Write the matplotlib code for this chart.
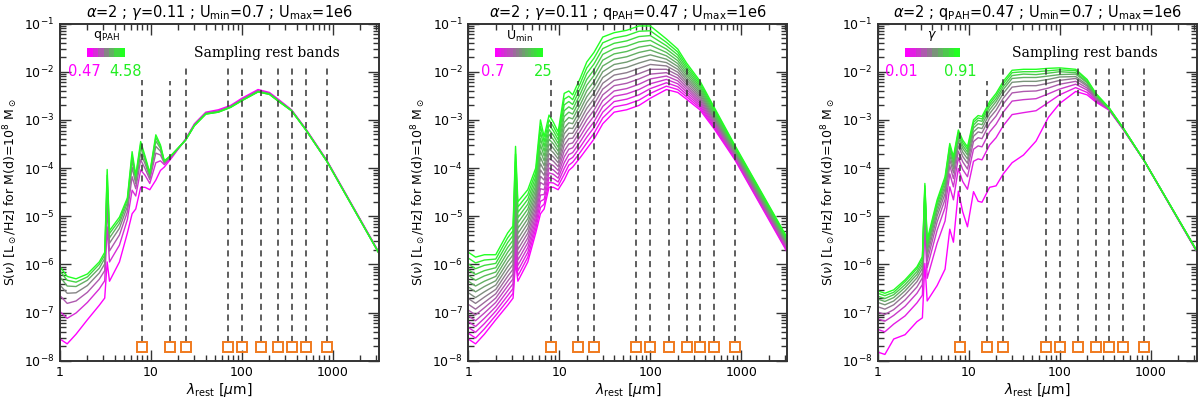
import numpy as np
import matplotlib.pyplot as plt
from matplotlib.colors import LinearSegmentedColormap
from matplotlib.patches import Rectangle
from matplotlib.ticker import LogLocator, NullFormatter, NullLocator

plt.rcParams['font.family'] = 'DejaVu Sans'
plt.rcParams['mathtext.fontset'] = 'dejavusans'

# wavelength grid (micron) shared by all curves
lam = [1.0, 1.2, 1.5, 2.0, 2.7, 3.1, 3.3, 3.5, 4.5, 5.5, 6.2, 6.8, 7.7, 8.6, 9.7, 11.3,
       12.7, 14, 17, 20, 24, 30, 40, 55, 75, 100, 150, 200, 250, 350, 500, 850, 3200]

# sampled rest bands (micron)
bands = [8, 16, 24, 70, 100, 160, 250, 350, 500, 850]

# panel 1: log10 S(nu) for qPAH = 0.47 ... 4.58
qpah_labels = ['0.47', '4.58']
sed_qpah = [
    [-7.55, -7.65, -7.45, -7.15, -6.85, -6.70, -5.95, -6.35, -5.95, -5.35, -4.95, -4.85, -4.40, -4.40, -4.45, -4.25, -4.05, -3.98, -3.78, -3.60, -3.40, -3.08, -2.84, -2.79, -2.70, -2.55, -2.37, -2.43, -2.57, -2.79, -3.18, -3.83, -5.75],
    [-6.98, -7.12, -7.01, -6.79, -6.51, -6.34, -5.22, -5.95, -5.60, -5.07, -4.46, -4.58, -4.04, -4.15, -4.32, -3.89, -3.85, -3.93, -3.76, -3.59, -3.41, -3.10, -2.86, -2.81, -2.72, -2.57, -2.39, -2.45, -2.59, -2.80, -3.19, -3.84, -5.76],
    [-6.65, -6.81, -6.76, -6.58, -6.31, -6.13, -4.80, -5.72, -5.39, -4.91, -4.18, -4.43, -3.83, -4.01, -4.24, -3.69, -3.73, -3.90, -3.74, -3.59, -3.41, -3.10, -2.86, -2.82, -2.72, -2.58, -2.40, -2.45, -2.59, -2.80, -3.19, -3.84, -5.76],
    [-6.43, -6.60, -6.59, -6.44, -6.18, -5.99, -4.51, -5.56, -5.25, -4.80, -3.98, -4.33, -3.69, -3.91, -4.19, -3.55, -3.65, -3.88, -3.74, -3.59, -3.42, -3.11, -2.87, -2.83, -2.73, -2.59, -2.41, -2.46, -2.60, -2.80, -3.20, -3.85, -5.77],
    [-6.26, -6.45, -6.46, -6.33, -6.08, -5.88, -4.30, -5.45, -5.15, -4.72, -3.84, -4.25, -3.58, -3.84, -4.15, -3.44, -3.59, -3.87, -3.73, -3.58, -3.42, -3.11, -2.87, -2.83, -2.73, -2.59, -2.41, -2.46, -2.60, -2.81, -3.20, -3.85, -5.77],
    [-6.14, -6.33, -6.37, -6.26, -6.00, -5.81, -4.15, -5.36, -5.08, -4.66, -3.74, -4.19, -3.51, -3.79, -4.12, -3.37, -3.55, -3.86, -3.72, -3.58, -3.42, -3.12, -2.88, -2.84, -2.74, -2.60, -2.42, -2.47, -2.61, -2.81, -3.20, -3.85, -5.77],
    [-6.05, -6.25, -6.30, -6.20, -5.95, -5.75, -4.03, -5.30, -5.02, -4.62, -3.66, -4.15, -3.45, -3.75, -4.10, -3.31, -3.52, -3.85, -3.72, -3.58, -3.42, -3.12, -2.88, -2.84, -2.74, -2.60, -2.42, -2.47, -2.61, -2.81, -3.20, -3.85, -5.77],
]

# panel 2: log10 S(nu) for Umin = 0.7 ... 25
umin_labels = ['0.7', '25']
sed_umin = [
    [-7.55, -7.65, -7.45, -7.15, -6.85, -6.70, -5.95, -6.35, -5.95, -5.35, -4.95, -4.85, -4.40, -4.40, -4.45, -4.25, -4.05, -3.98, -3.78, -3.60, -3.40, -3.08, -2.84, -2.79, -2.70, -2.55, -2.37, -2.43, -2.57, -2.79, -3.18, -3.83, -5.75],
    [-7.43, -7.53, -7.34, -7.06, -6.75, -6.60, -5.79, -6.24, -5.85, -5.26, -4.82, -4.75, -4.30, -4.31, -4.37, -4.13, -3.94, -3.88, -3.67, -3.48, -3.28, -2.96, -2.73, -2.68, -2.59, -2.45, -2.30, -2.37, -2.52, -2.75, -3.15, -3.81, -5.73],
    [-7.31, -7.41, -7.23, -6.97, -6.65, -6.50, -5.63, -6.13, -5.75, -5.17, -4.69, -4.65, -4.20, -4.22, -4.29, -4.01, -3.83, -3.78, -3.56, -3.36, -3.16, -2.84, -2.62, -2.57, -2.48, -2.35, -2.23, -2.31, -2.47, -2.71, -3.12, -3.79, -5.71],
    [-7.19, -7.29, -7.12, -6.88, -6.55, -6.40, -5.47, -6.02, -5.65, -5.08, -4.56, -4.55, -4.10, -4.13, -4.21, -3.89, -3.72, -3.68, -3.45, -3.24, -3.04, -2.72, -2.51, -2.46, -2.37, -2.25, -2.16, -2.25, -2.42, -2.67, -3.09, -3.77, -5.69],
    [-7.07, -7.17, -7.01, -6.79, -6.45, -6.30, -5.31, -5.91, -5.55, -4.99, -4.43, -4.45, -4.00, -4.04, -4.13, -3.77, -3.61, -3.58, -3.34, -3.12, -2.92, -2.60, -2.40, -2.35, -2.26, -2.15, -2.09, -2.19, -2.37, -2.63, -3.06, -3.75, -5.67],
    [-6.95, -7.05, -6.90, -6.70, -6.35, -6.20, -5.15, -5.80, -5.45, -4.90, -4.30, -4.35, -3.90, -3.95, -4.05, -3.65, -3.50, -3.48, -3.23, -3.00, -2.80, -2.48, -2.29, -2.24, -2.15, -2.05, -2.02, -2.13, -2.32, -2.59, -3.03, -3.73, -5.65],
    [-6.83, -6.93, -6.79, -6.61, -6.25, -6.10, -4.99, -5.69, -5.35, -4.81, -4.17, -4.25, -3.80, -3.86, -3.97, -3.53, -3.39, -3.38, -3.12, -2.88, -2.68, -2.36, -2.18, -2.13, -2.04, -1.95, -1.95, -2.07, -2.27, -2.55, -3.00, -3.71, -5.63],
    [-6.71, -6.81, -6.68, -6.52, -6.15, -6.00, -4.83, -5.58, -5.25, -4.72, -4.04, -4.15, -3.70, -3.77, -3.89, -3.41, -3.28, -3.28, -3.01, -2.76, -2.56, -2.24, -2.07, -2.02, -1.93, -1.85, -1.88, -2.01, -2.22, -2.51, -2.97, -3.69, -5.61],
    [-6.59, -6.69, -6.57, -6.43, -6.05, -5.90, -4.67, -5.47, -5.15, -4.63, -3.91, -4.05, -3.60, -3.68, -3.81, -3.29, -3.17, -3.18, -2.90, -2.64, -2.44, -2.12, -1.96, -1.91, -1.82, -1.75, -1.81, -1.95, -2.17, -2.47, -2.94, -3.67, -5.59],
    [-6.47, -6.57, -6.46, -6.34, -5.95, -5.80, -4.51, -5.36, -5.05, -4.54, -3.78, -3.95, -3.50, -3.59, -3.73, -3.17, -3.06, -3.08, -2.79, -2.52, -2.32, -2.00, -1.85, -1.80, -1.71, -1.65, -1.74, -1.89, -2.12, -2.43, -2.91, -3.65, -5.57],
    [-6.35, -6.45, -6.35, -6.25, -5.85, -5.70, -4.35, -5.25, -4.95, -4.45, -3.65, -3.85, -3.40, -3.50, -3.65, -3.05, -2.95, -2.98, -2.68, -2.40, -2.20, -1.88, -1.74, -1.69, -1.60, -1.55, -1.67, -1.83, -2.07, -2.39, -2.88, -3.63, -5.55],
    [-6.23, -6.33, -6.24, -6.16, -5.75, -5.60, -4.19, -5.14, -4.85, -4.36, -3.52, -3.75, -3.30, -3.41, -3.57, -2.93, -2.84, -2.88, -2.57, -2.28, -2.08, -1.76, -1.63, -1.58, -1.49, -1.45, -1.60, -1.77, -2.02, -2.35, -2.85, -3.61, -5.53],
    [-6.11, -6.21, -6.13, -6.07, -5.65, -5.50, -4.03, -5.03, -4.75, -4.27, -3.39, -3.65, -3.20, -3.32, -3.49, -2.81, -2.73, -2.78, -2.46, -2.16, -1.96, -1.64, -1.52, -1.47, -1.38, -1.35, -1.53, -1.71, -1.97, -2.31, -2.82, -3.59, -5.51],
    [-5.99, -6.09, -6.02, -5.98, -5.55, -5.40, -3.87, -4.92, -4.65, -4.18, -3.26, -3.55, -3.10, -3.23, -3.41, -2.69, -2.62, -2.68, -2.35, -2.04, -1.84, -1.52, -1.41, -1.36, -1.27, -1.25, -1.46, -1.65, -1.92, -2.27, -2.79, -3.57, -5.49],
    [-5.87, -5.97, -5.91, -5.89, -5.45, -5.30, -3.71, -4.81, -4.55, -4.09, -3.13, -3.45, -3.00, -3.14, -3.33, -2.57, -2.51, -2.58, -2.24, -1.92, -1.72, -1.40, -1.30, -1.25, -1.16, -1.15, -1.39, -1.59, -1.87, -2.23, -2.76, -3.55, -5.47],
    [-5.75, -5.85, -5.80, -5.80, -5.35, -5.20, -3.55, -4.70, -4.45, -4.00, -3.00, -3.35, -2.90, -3.05, -3.25, -2.45, -2.40, -2.48, -2.13, -1.80, -1.60, -1.28, -1.19, -1.14, -1.05, -1.05, -1.32, -1.53, -1.82, -2.19, -2.73, -3.53, -5.45],
]

# panel 3: log10 S(nu) for gamma = 0.01 ... 0.91
gamma_labels = ['0.01', '0.91']
sed_gamma = [
    [-7.82, -7.87, -7.55, -7.46, -7.19, -7.11, -5.98, -6.76, -6.44, -6.10, -5.27, -5.54, -4.48, -4.91, -5.22, -4.49, -4.69, -4.71, -4.40, -4.37, -4.12, -3.89, -3.73, -3.44, -2.95, -2.66, -2.41, -2.48, -2.63, -2.80, -3.20, -3.85, -5.73],
    [-7.35, -7.40, -7.24, -7.07, -6.80, -6.64, -5.20, -6.29, -5.56, -5.10, -4.39, -4.66, -4.01, -4.28, -4.44, -3.86, -3.81, -3.83, -3.52, -3.37, -3.12, -2.89, -2.85, -2.81, -2.64, -2.48, -2.33, -2.43, -2.61, -2.79, -3.20, -3.85, -5.73],
    [-7.13, -7.18, -7.06, -6.87, -6.60, -6.42, -4.94, -6.07, -5.29, -4.82, -4.12, -4.39, -3.79, -4.03, -4.18, -3.61, -3.54, -3.56, -3.25, -3.09, -2.84, -2.61, -2.58, -2.56, -2.46, -2.36, -2.26, -2.38, -2.58, -2.79, -3.19, -3.85, -5.73],
    [-6.99, -7.04, -6.94, -6.74, -6.47, -6.28, -4.78, -5.93, -5.12, -4.65, -3.95, -4.22, -3.65, -3.87, -4.02, -3.45, -3.37, -3.39, -3.08, -2.92, -2.67, -2.44, -2.41, -2.40, -2.34, -2.26, -2.20, -2.34, -2.56, -2.78, -3.19, -3.85, -5.72],
    [-6.88, -6.93, -6.84, -6.63, -6.36, -6.17, -4.66, -5.82, -5.00, -4.53, -3.83, -4.10, -3.54, -3.76, -3.90, -3.34, -3.25, -3.27, -2.96, -2.80, -2.55, -2.32, -2.29, -2.29, -2.24, -2.18, -2.14, -2.30, -2.54, -2.78, -3.19, -3.85, -5.72],
    [-6.79, -6.84, -6.76, -6.55, -6.28, -6.08, -4.57, -5.73, -4.91, -4.43, -3.74, -4.01, -3.45, -3.67, -3.81, -3.25, -3.16, -3.18, -2.87, -2.70, -2.45, -2.22, -2.20, -2.20, -2.16, -2.11, -2.10, -2.27, -2.52, -2.77, -3.18, -3.85, -5.72],
    [-6.72, -6.77, -6.69, -6.48, -6.21, -6.01, -4.49, -5.66, -4.83, -4.36, -3.66, -3.93, -3.38, -3.59, -3.73, -3.17, -3.08, -3.10, -2.79, -2.62, -2.37, -2.14, -2.12, -2.12, -2.09, -2.06, -2.05, -2.23, -2.50, -2.77, -3.18, -3.85, -5.72],
    [-6.66, -6.71, -6.63, -6.42, -6.15, -5.95, -4.43, -5.60, -4.76, -4.29, -3.59, -3.86, -3.32, -3.53, -3.67, -3.11, -3.01, -3.03, -2.72, -2.56, -2.31, -2.08, -2.05, -2.06, -2.03, -2.00, -2.02, -2.21, -2.48, -2.76, -3.18, -3.85, -5.71],
    [-6.60, -6.65, -6.58, -6.36, -6.09, -5.89, -4.37, -5.54, -4.71, -4.23, -3.54, -3.81, -3.26, -3.47, -3.61, -3.05, -2.96, -2.98, -2.67, -2.50, -2.25, -2.02, -2.00, -2.00, -1.98, -1.96, -1.98, -2.18, -2.46, -2.76, -3.17, -3.85, -5.71],
    [-6.55, -6.60, -6.53, -6.32, -6.05, -5.84, -4.32, -5.49, -4.66, -4.18, -3.49, -3.76, -3.21, -3.42, -3.56, -3.00, -2.91, -2.93, -2.62, -2.45, -2.20, -1.97, -1.95, -1.95, -1.93, -1.92, -1.95, -2.16, -2.45, -2.75, -3.17, -3.85, -5.71],
]

panels = [
    (r'$\alpha$=2 ; $\gamma$=0.11 ; U$_{\rm min}$=0.7 ; U$_{\rm max}$=1e6',
     r'q$_{\rm PAH}$', qpah_labels, sed_qpah, True, 0.205),
    (r'$\alpha$=2 ; $\gamma$=0.11 ; q$_{\rm PAH}$=0.47 ; U$_{\rm max}$=1e6',
     r'U$_{\rm min}$', umin_labels, sed_umin, False, 0.235),
    (r'$\alpha$=2 ; q$_{\rm PAH}$=0.47 ; U$_{\rm min}$=0.7 ; U$_{\rm max}$=1e6',
     r'$\gamma$', gamma_labels, sed_gamma, True, 0.258),
]

cmap = LinearSegmentedColormap.from_list('mg', ['#ff00ff', '#858585', '#22ff22'])
MAG, GRN = '#ff00ff', '#22ee22'

fig = plt.figure(figsize=(12, 3.99), dpi=100)
lefts = [0.050, 0.3903, 0.7314]
band_top = {8: 6.8e-3, 16: 6.5e-3}

for left, (title, par, lims, seds, show_text, x1) in zip(lefts, panels):
    ax = fig.add_axes([left, 0.096, 0.2658, 0.845])
    n = len(seds)
    for i, row in enumerate(seds):
        ax.plot(lam, 10 ** np.array(row), color=cmap(i / (n - 1)), lw=1.0, zorder=2)

    for b in bands:
        ax.plot([b, b], [2.5e-8, band_top.get(b, 1.25e-2)], ls=(0, (4, 3)),
                color='#333333', lw=1.1, zorder=3)
    ax.plot(bands, [1.95e-8] * len(bands), 's', ms=7, mfc='none',
            mec='#f07a1e', mew=1.4, ls='none', zorder=4)

    ax.set_xscale('log')
    ax.set_yscale('log')
    ax.set_xlim(1, 3200)
    ax.set_ylim(1e-8, 1e-1)
    ax.set_xticks([1, 10, 100, 1000])
    ax.set_xticklabels(['1', '10', '100', '1000'])
    ax.xaxis.set_minor_locator(LogLocator(base=10, subs=np.arange(2, 10), numticks=10))
    ax.xaxis.set_minor_formatter(NullFormatter())
    ax.yaxis.set_major_locator(LogLocator(base=10, numticks=10))
    ax.yaxis.set_minor_locator(LogLocator(base=10, subs=np.arange(2, 10), numticks=20))
    ax.yaxis.set_minor_formatter(NullFormatter())
    ax.tick_params(which='both', direction='in', top=True, right=True,
                   labelsize=9, color='#333333', width=1.0)
    ax.tick_params(which='major', length=8, pad=4)
    ax.tick_params(which='minor', length=4)
    for s in ax.spines.values():
        s.set_linewidth(1.4)
        s.set_color('#333333')

    ax.set_title(title, fontsize=10.5, pad=5)
    ax.set_xlabel(r'$\lambda_{\rm rest}$ [$\mu$m]', fontsize=10, labelpad=1)
    ax.set_ylabel(r'S($\nu$) [L$_\odot$/Hz] for M(d)=10$^8$ M$_\odot$', fontsize=9, labelpad=3)

    # colour bar of the parameter
    x0, y0, h = 0.085, 0.902, 0.024
    w = (x1 - x0) / n
    for i in range(n):
        ax.add_patch(Rectangle((x0 + i * w, y0), w, h, transform=ax.transAxes,
                               color=cmap(i / (n - 1)), lw=0, zorder=5))
    ax.text((x0 + x1) / 2, 0.962, par, transform=ax.transAxes, ha='center',
            va='center', fontsize=9)
    ax.text(x0 - 0.01, 0.857, lims[0], transform=ax.transAxes, ha='center',
            va='center', fontsize=10.5, color=MAG)
    ax.text(x1, 0.857, lims[1], transform=ax.transAxes, ha='center',
            va='center', fontsize=10.5, color=GRN)
    if show_text:
        ax.text(0.65, 0.913, 'Sampling rest bands', transform=ax.transAxes,
                ha='center', va='center', fontsize=10, family='DejaVu Serif')

fig.savefig('out.png', dpi=100)
